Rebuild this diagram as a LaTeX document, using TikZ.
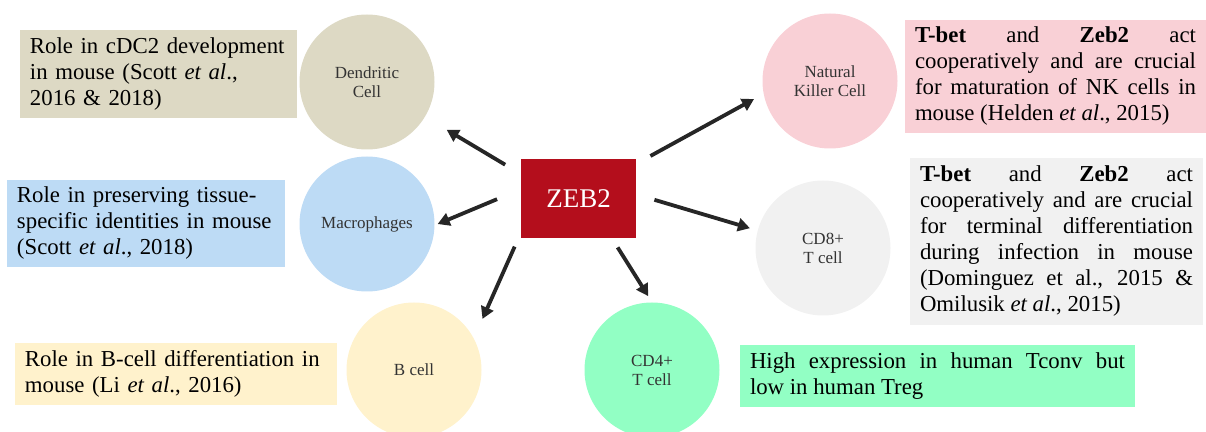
\documentclass[tikz,border=0pt]{standalone}
\usepackage{fontspec}
\setmainfont{Liberation Serif}
\usetikzlibrary{arrows.meta}
\definecolor{dcbeige}{RGB}{221,217,196}
\definecolor{macblue}{RGB}{189,219,245}
\definecolor{bcyellow}{RGB}{255,242,204}
\definecolor{nkpink}{RGB}{249,208,214}
\definecolor{cdgray}{RGB}{241,241,241}
\definecolor{cdmint}{RGB}{146,255,196}
\definecolor{zebred}{RGB}{180,14,28}
\definecolor{arrgray}{RGB}{38,38,38}

\begin{document}
\begin{tikzpicture}[
			x=0.5pt, y=-0.5pt,
			cell/.style={circle, minimum size=67.5pt, inner sep=0pt, align=center,
				font=\fontsize{8.5}{9.5}\selectfont, text=black!80},
			note/.style={rectangle, inner xsep=5pt, inner ysep=0pt, align=left,
				font=\fontsize{11.4}{13}\selectfont},
			jnote/.style={note, align=justify},
			arr/.style={-{Triangle[length=6pt, width=6.5pt]}, line width=1.9pt, draw=arrgray}
		]
			\clip (0,0) rectangle (1206,432);
			\node[fill=zebred, text=white, minimum width=57.5pt, minimum height=39.5pt,
				font=\fontsize{13.5}{15}\selectfont] (zeb) at (578.5,198.5) {ZEB2};

			\node[cell, fill=dcbeige] (dc) at (367,82) {Dendritic\\Cell};
			\node[cell, fill=macblue] (mac) at (367,224) {Macrophages};
			\node[cell, fill=bcyellow] (bc) at (414,370) {B cell};
			\node[cell, fill=cdmint] (cd4) at (652,370) {CD4+\\T cell};
			\node[cell, fill=cdgray] (cd8) at (823,248) {CD8+\\T cell};
			\node[cell, fill=nkpink] (nk) at (830,81) {Natural\\Killer Cell};

			\node[note, fill=dcbeige, text width=128.5pt, minimum height=44pt] (dcnote) at (158.5,74)
				{Role in cDC2 development\\in mouse (Scott \textit{et al}.,\\2016 \& 2018)};
			\node[note, fill=macblue, text width=129pt, minimum height=43.5pt] (macnote) at (146,223.5)
				{Role in preserving tissue-\\specific identities in mouse\\(Scott \textit{et al}., 2018)};
			\node[note, fill=bcyellow, text width=151pt, minimum height=31pt] (bcnote) at (176,374)
				{Role in B-cell differentiation in\\mouse (Li \textit{et al}., 2016)};
			\node[jnote, fill=nkpink, text width=140.5pt, minimum height=56.5pt] (nknote) at (1055.5,76.5)
				{\textbf{T-bet} and \textbf{Zeb2} act\linebreak cooperatively and are crucial\linebreak
				for maturation of NK cells in\linebreak mouse (Helden \textit{et al}., 2015)};
			\node[jnote, fill=cdgray, text width=136.5pt, minimum height=83.5pt] (cd8note) at (1056.5,241.5)
				{\textbf{T-bet} and \textbf{Zeb2} act\linebreak cooperatively and are crucial\linebreak
				for terminal differentiation\linebreak during infection in mouse\linebreak
				(Dominguez et al., 2015 \&\linebreak Omilusik \textit{et al}., 2015)};
			\node[jnote, fill=cdmint, text width=187.5pt, minimum height=31pt] (cd4note) at (937.5,376)
				{High expression in human Tconv but\linebreak low in human Treg};

			\draw[arr, shorten <=9pt, shorten >=12.5pt] (zeb.157) -- (dc.-31);
			\draw[arr, shorten <=12.75pt, shorten >=1.5pt] (zeb.171) -- (mac.-1);
			\draw[arr, shorten <=7.3pt, shorten >=10.5pt] (zeb.211) -- (bc.28);
			\draw[arr, shorten <=5.3pt, shorten >=3.5pt] (zeb.-50) -- (cd4.90);
			\draw[arr, shorten <=9.4pt, shorten >=3.9pt] (zeb.4) -- (cd8.165);
			\draw[arr, shorten <=8pt, shorten >=5.3pt] (zeb.31) -- (nk.191);
		\end{tikzpicture}
\end{document}
